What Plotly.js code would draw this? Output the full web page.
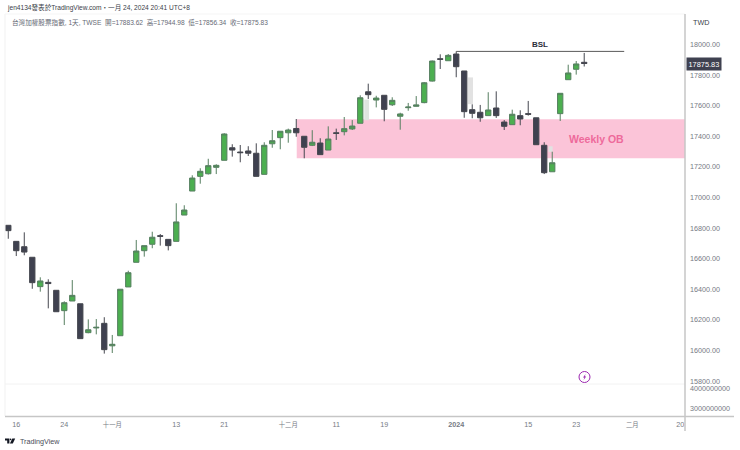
<!DOCTYPE html>
<html>
<head>
<meta charset="utf-8">
<script src="https://cdn.plot.ly/plotly-3.0.1.min.js"></script>
<style>html,body{margin:0;padding:0;background:#fff;overflow:hidden}#chart{width:740px;height:450px}</style>
</head>
<body>
<div id="chart"></div>
<script>
const openPrices = [16818,16713,16678,16609,16417,16445,16393,16260,16323,16305,16116,16147,16177,16030,16096,16415,16576,16652,16694,16750,16726,16713,16885,17042,17138,17155,17197,17243,17325,17297,17304,17289,17151,17351,17391,17423,17451,17400,17341,17356,17310,17423,17430,17448,17485,17691,17637,17668,17606,17531,17587,17596,17620,17761,17907,17894,17938,17827,17574,17557,17535,17585,17493,17476,17535,17548,17521,17341,17168,17548,17770,17838,17883.62];
const highPrices = [16818,16713,16772,16609,16478,16465,16393,16321,16460,16305,16203,16205,16217,16101,16400,16521,16722,16685,16776,16761,16726,16962,16949,17145,17191,17253,17217,17420,17348,17343,17335,17354,17361,17441,17433,17450,17513,17400,17440,17387,17465,17450,17526,17506,17668,17744,17665,17668,17655,17554,17618,17663,17755,17895,17936,17938,17955,17827,17609,17605,17688,17694,17506,17574,17570,17631,17521,17361,17299,17681,17868,17892,17944.98];
const lowPrices = [16730,16617,16622,16403,16384,16275,16253,16166,16323,16077,16112,16105,15979,15983,16096,16415,16576,16613,16668,16685,16654,16713,16885,17042,17090,17150,17153,17243,17267,17230,17271,17138,17151,17325,17315,17358,17397,17256,17336,17280,17310,17376,17406,17441,17485,17644,17589,17498,17598,17443,17567,17595,17616,17758,17840,17894,17786,17521,17518,17495,17535,17520,17441,17476,17472,17535,17345,17153,17168,17500,17770,17803,17856.34];
const closePrices = [16783,16652,16643,16443,16454,16437,16253,16312,16360,16077,16135,16151,16005,16040,16400,16508,16650,16685,16740,16746,16685,16840,16918,17127,17171,17208,17210,17415,17310,17293,17289,17138,17341,17371,17433,17441,17423,17328,17361,17280,17382,17419,17450,17467,17652,17672,17650,17576,17635,17546,17591,17605,17750,17892,17903,17929,17855,17561,17550,17521,17572,17535,17465,17544,17513,17544,17345,17162,17227,17681,17814,17873,17875.83];

const dayTickPositions = [1,7,13,21,27,35,41,47,56,65,71,78,84];
const dayTickLabels = ['16','24','十一月','13','21','十二月','11','19','<b>2024</b>','15','23','二月','20'];
const volumeTicks = [4000000000,3000000000];
const volumeTickLabels = ['4000000000','3000000000'];

const obZone = {x0:36.06, x1:84.6, top:17511, bottom:17256, label:'Weekly OB'};
const bsl = {x0:56, x1:77, level:17955, label:'BSL'};
const lastClose = 17875.83;
const fadedBoxes = [
  {x0:44.5, x1:45.1, y0:17640, y1:17505, c:'#dfe5e0'},
  {x0:57.45, x1:58.1, y0:17785, y1:17610, c:'#e2e2e2'},
  {x0:67.55, x1:68.05, y0:17335, y1:17298, c:'#e2e2e2'}
];

const headerLine = 'jen4134發表於TradingView.com・一月 24, 2024 20:41 UTC+8';
const legendLine = '台灣加權股票指數, 1天, TWSE  開=17883.62  高=17944.98  低=17856.34  收=17875.83';

const FONT = '"Liberation Sans","Noto Sans CJK TC",sans-serif';
const W = 740, H = 450, L = 5, R = 685, T = 14, B = 416, SEP = 384;
const px = v => (v - L) / (R - L);
const py = v => (B - v) / (B - T);
const AXIS_GREY = '#767a84';

const xs = openPrices.map((_, i) => i);

const candles = {
  type: 'candlestick', x: xs, open: openPrices, high: highPrices, low: lowPrices, close: closePrices,
  increasing: {line: {color: '#567f60', width: 1}, fillcolor: '#4caf50'},
  decreasing: {line: {color: '#45474f', width: 1}, fillcolor: '#3f4150'},
  whiskerwidth: 0, hoverinfo: 'skip', xaxis: 'x', yaxis: 'y'
};
const volumeScale = {
  type: 'scatter', mode: 'markers', x: [0,0], y: volumeTicks, marker: {opacity: 0, size: 1},
  hoverinfo: 'skip', xaxis: 'x', yaxis: 'y2', showlegend: false
};

const shapes = [
  {type:'rect', xref:'x', yref:'y', x0:obZone.x0, x1:obZone.x1, y0:obZone.bottom, y1:obZone.top, fillcolor:'#fbc4d8', line:{width:0}, layer:'below'},
  {type:'line', xref:'x', yref:'y', x0:bsl.x0, x1:bsl.x1, y0:bsl.level, y1:bsl.level, line:{color:'#5a5a5a', width:1}},
  {type:'line', xref:'paper', yref:'paper', x0:0, x1:1, y0:py(SEP), y1:py(SEP), line:{color:'#f2f2f2', width:1}},
  {type:'line', xref:'paper', yref:'paper', x0:0, x1:0, y0:0, y1:1, line:{color:'#f1f1f1', width:1}},
  {type:'line', xref:'paper', yref:'paper', x0:0, x1:1, y0:1, y1:1, line:{color:'#f5f5f5', width:1}},
  {type:'line', xref:'paper', yref:'paper', x0:px(R), x1:px(R), y0:py(431), y1:py(14), line:{color:'#c6c6c6', width:1.5}},
  {type:'line', xref:'paper', yref:'paper', x0:px(5), x1:px(734), y0:py(416.5), y1:py(416.5), line:{color:'#c6c6c6', width:1.5}},
  {type:'circle', xref:'paper', yref:'paper', x0:px(579), x1:px(590), y0:py(382.5), y1:py(371.5), line:{color:'#9c27b0', width:1}, fillcolor:'#ffffff'},
  {type:'path', xref:'paper', yref:'paper', line:{width:0}, fillcolor:'#9c27b0',
   path:`M${px(585.6)},${py(374)} L${px(583)},${py(377.6)} L${px(584.4)},${py(377.6)} L${px(583.6)},${py(380)} L${px(586.2)},${py(376.4)} L${px(584.8)},${py(376.4)} Z`},
  {type:'path', xref:'paper', yref:'paper', line:{width:0}, fillcolor:'#131722',
   path:`M${px(5)},${py(438.5)} L${px(9.4)},${py(438.5)} L${px(9.4)},${py(443.6)} L${px(7.2)},${py(443.6)} L${px(7.2)},${py(440.6)} L${px(5)},${py(440.6)} Z`},
  {type:'circle', xref:'paper', yref:'paper', x0:px(9.8), x1:px(11.4), y0:py(440.2), y1:py(438.6), line:{width:0}, fillcolor:'#131722'},
  {type:'path', xref:'paper', yref:'paper', line:{width:0}, fillcolor:'#131722',
   path:`M${px(12.3)},${py(438.5)} L${px(15.2)},${py(438.5)} L${px(12.8)},${py(443.6)} L${px(9.9)},${py(443.6)} Z`}
];
fadedBoxes.forEach(b => shapes.push({type:'rect', xref:'x', yref:'y', x0:b.x0, x1:b.x1, y0:b.y0, y1:b.y1, fillcolor:b.c, line:{width:0}, layer:'below'}));

const annotations = [
  {xref:'paper', yref:'paper', x:px(5), y:py(8), xanchor:'left', yanchor:'middle', text:headerLine, showarrow:false, font:{family:FONT, size:6.6, color:'#3a3d48'}},
  {xref:'paper', yref:'paper', x:px(10), y:py(22.5), xanchor:'left', yanchor:'middle', text:legendLine, showarrow:false, font:{family:FONT, size:6.6, color:'#666a75'}},
  {xref:'x', yref:'y', x:(bsl.x0+bsl.x1)/2, y:17997, xanchor:'center', yanchor:'middle', text:'<b>'+bsl.label+'</b>', showarrow:false, font:{family:FONT, size:8, color:'#2a2e39'}},
  {xref:'x', yref:'y', x:73.5, y:17382, xanchor:'center', yanchor:'middle', text:'<b>'+obZone.label+'</b>', showarrow:false, font:{family:FONT, size:10.5, color:'#ee6a9b'}},
  {xref:'paper', yref:'paper', x:px(691), y:py(22.5), xanchor:'left', yanchor:'middle', text:'TWD', showarrow:false, font:{family:FONT, size:7.2, color:'#3a3d48'}},
  {xref:'paper', yref:'y', x:px(685.5), y:lastClose, xanchor:'left', yanchor:'middle', text:lastClose.toFixed(2), showarrow:false, bgcolor:'#3f4150', borderpad:1.5, font:{family:FONT, size:7.4, color:'#ffffff'}},
  {xref:'paper', yref:'paper', x:px(17.5), y:py(441), xanchor:'left', yanchor:'middle', text:'TradingView', showarrow:false, font:{family:FONT, size:7.2, color:'#4a4d58'}}
];

const layout = {
  width: W, height: H, showlegend: false, dragmode: false,
  paper_bgcolor: '#ffffff', plot_bgcolor: '#ffffff',
  margin: {l: L, r: W - R, t: T, b: H - B, pad: 0},
  boxgap: 0.05,
  font: {family: FONT, size: 7.2, color: AXIS_GREY},
  xaxis: {
    anchor: 'y2', range: [-0.41, 84.6], tickmode: 'array', tickvals: dayTickPositions,
    ticktext: dayTickLabels.map(t => /[一-龥]/.test(t) ? '<span style="font-size:6.3px">' + t + '</span>' : t),
    showgrid: false, zeroline: false, showline: false, ticks: '', rangeslider: {visible: false},
    tickfont: {family: FONT, size: 7.2, color: AXIS_GREY}, fixedrange: true, ticklabelstandoff: 3
  },
  yaxis: {
    domain: [py(SEP), 1], side: 'right', anchor: 'x', range: [15780.4, 18199.5], tick0: 15800, dtick: 200,
    tickformat: '.2f', showgrid: false, zeroline: false, showline: false, ticks: '', ticklabelstandoff: 4,
    tickfont: {family: FONT, size: 7.2, color: AXIS_GREY}, fixedrange: true
  },
  yaxis2: {
    domain: [0, py(SEP)], side: 'right', anchor: 'x', range: [2600000000, 4240000000],
    tickmode: 'array', tickvals: volumeTicks, ticktext: volumeTickLabels,
    showgrid: false, zeroline: false, showline: false, ticks: '', ticklabelstandoff: 4,
    tickfont: {family: FONT, size: 7.2, color: AXIS_GREY}, fixedrange: true
  },
  shapes, annotations
};

Plotly.newPlot('chart', [candles, volumeScale], layout, {displayModeBar: false, staticPlot: true});
</script>
</body>
</html>
